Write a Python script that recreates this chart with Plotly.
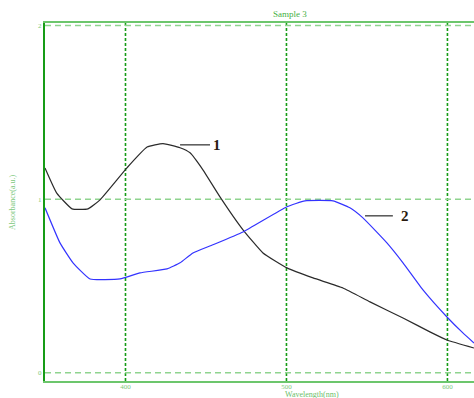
import plotly.graph_objects as go

# Absorbance spectra, sample 3
wl_1 = [350, 357.3, 366.8, 376.7, 384.2, 400.9, 413.4, 423.3, 433.9, 440.1, 448.1,
        458.7, 473.0, 485.4, 500.3, 516.5, 535.1, 551.9, 572.4, 589.1, 599.7, 616.5]
abs_1 = [1.18, 1.035, 0.944, 0.944, 0.996, 1.18, 1.30, 1.32, 1.296, 1.267, 1.169,
         1.013, 0.823, 0.69, 0.604, 0.546, 0.488, 0.408, 0.315, 0.235, 0.188, 0.142]

wl_2 = [350, 359.3, 367.4, 378.0, 396.6, 409.0, 425.8, 433.9, 441.9, 454.3, 473.0,
        500.3, 511.5, 528.9, 539.4, 547.5, 562.4, 572.4, 584.8, 599.7, 609.6, 616.5]
abs_2 = [0.95, 0.748, 0.633, 0.54, 0.54, 0.575, 0.598, 0.633, 0.69, 0.737, 0.811,
         0.956, 0.99, 0.99, 0.95, 0.892, 0.748, 0.633, 0.477, 0.321, 0.229, 0.171]

x_ticks = [400, 500, 600]
y_ticks = [0, 1, 2]

# curve labels: text, leader line start/end (wavelength), absorbance level, text position
curve_labels = [
    ("1", 433.9, 452.5, 1.313, 457.0),
    ("2", 548.8, 566.1, 0.904, 573.5),
]

GREEN_DARK = "#169c16"
GREEN_LIGHT = "#8fd48f"
SERIF = "Liberation Serif, DejaVu Serif, serif"

fig = go.Figure()
fig.add_trace(go.Scatter(x=wl_1, y=abs_1, mode="lines",
                         line=dict(color="#2b2b2b", width=1.2, shape="spline", smoothing=0.4)))
fig.add_trace(go.Scatter(x=wl_2, y=abs_2, mode="lines",
                         line=dict(color="#3333ff", width=1.2, shape="spline", smoothing=0.4)))

for txt, x0, x1, yv, xt in curve_labels:
    fig.add_shape(type="line", x0=x0, x1=x1, y0=yv, y1=yv, xref="x", yref="y",
                  line=dict(color="#555555", width=1.5))
    fig.add_annotation(x=xt, y=yv, text="<b>" + txt + "</b>", showarrow=False,
                       xref="x", yref="y", font=dict(family=SERIF, size=15, color="#2a1a10"))

# vertical grid: dense dark-green dots
for xv in x_ticks:
    fig.add_shape(type="line", x0=xv, x1=xv, y0=0, y1=1, xref="x", yref="paper",
                  line=dict(color=GREEN_DARK, width=1.6, dash="3px,2px"), layer="below")
# horizontal grid: light-green dashes
for yv in y_ticks:
    fig.add_shape(type="line", x0=0, x1=1, y0=yv, y1=yv, xref="paper", yref="y",
                  line=dict(color=GREEN_LIGHT, width=1.5, dash="6px,4px"), layer="below")

# titles placed as annotations
fig.add_annotation(text="Sample 3", x=0.571, y=1.025, xref="paper", yref="paper",
                   showarrow=False, xanchor="center", yanchor="middle",
                   font=dict(family=SERIF, size=9, color="#44b044"))
fig.add_annotation(text="Wavelength(nm)", x=0.622, y=-0.038, xref="paper", yref="paper",
                   showarrow=False, xanchor="center", yanchor="middle",
                   font=dict(family=SERIF, size=8, color="#6cc06c"))
fig.add_annotation(text="Absorbance(a.u.)", x=-0.077, y=0.5, xref="paper", yref="paper",
                   showarrow=False, textangle=-90, xanchor="center", yanchor="middle",
                   font=dict(family=SERIF, size=8, color="#7cc87c"))

fig.update_layout(
    width=474, height=398,
    margin=dict(l=45, r=0, t=23, b=17),
    paper_bgcolor="white", plot_bgcolor="white",
    showlegend=False,
    xaxis=dict(range=[350, 616.5], tickvals=x_ticks, showgrid=False, zeroline=False,
               showline=True, mirror=True, linecolor="#6cc66c", linewidth=2,
               ticks="", ticklabelstandoff=-2,
               tickfont=dict(family=SERIF, size=7, color="#7cc87c")),
    yaxis=dict(range=[-0.048, 2.015], tickvals=y_ticks, showgrid=False, zeroline=False,
               showline=True, mirror=False, linecolor=GREEN_DARK, linewidth=2,
               ticks="", tickfont=dict(family=SERIF, size=7, color="#7cc87c")),
)

fig.write_html("out.html")
